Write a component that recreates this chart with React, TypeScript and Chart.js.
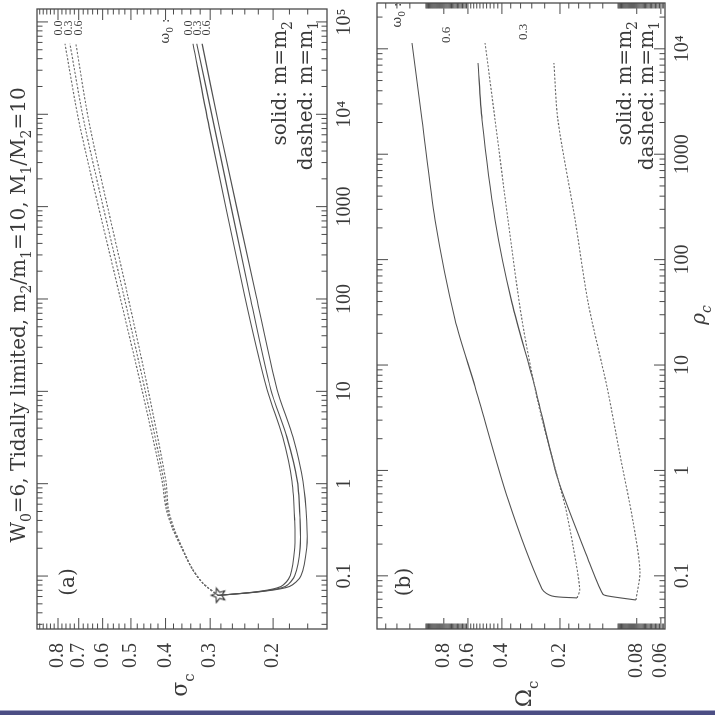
import { useEffect, useRef } from "react";
import { Chart, registerables } from "chart.js";

Chart.register(...registerables);

// Panel (a): central velocity dispersion sigma_c against central density rho_c.
// Solid curves: m = m2, dashed curves: m = m1; one curve per initial rotation w0.
const A_SOLID_RHO = [0.0617, 0.068, 0.0771, 0.101, 0.202, 0.394, 1.06, 3.2, 10.5, 107, 7280, 58000];
const A_SOLID_00_SIG = [0.285, 0.22, 0.19, 0.179, 0.174, 0.174, 0.177, 0.188, 0.208, 0.24, 0.302, 0.335];
const A_SOLID_03_SIG = [0.285, 0.217, 0.185, 0.174, 0.168, 0.168, 0.171, 0.183, 0.203, 0.232, 0.292, 0.327];
const A_SOLID_06_SIG = [0.285, 0.215, 0.18, 0.167, 0.161, 0.161, 0.165, 0.176, 0.195, 0.223, 0.283, 0.316];
const A_DASH_RHO = [0.0617, 0.083, 0.12, 0.202, 0.331, 0.542, 1.06, 10.5, 107, 7280, 58000];
const A_DASH_00_SIG = [0.285, 0.314, 0.337, 0.361, 0.383, 0.399, 0.409, 0.466, 0.537, 0.694, 0.765];
const A_DASH_03_SIG = [0.285, 0.314, 0.337, 0.36, 0.381, 0.396, 0.404, 0.457, 0.523, 0.672, 0.741];
const A_DASH_06_SIG = [0.285, 0.314, 0.337, 0.359, 0.379, 0.393, 0.399, 0.448, 0.51, 0.651, 0.713];
const STAR_RHO = 0.0617;
const STAR_SIG = 0.285;

// Panel (b): central angular velocity Omega_c against rho_c.
const B_SOLID_06_RHO = [0.0617, 0.0644, 0.075, 0.533, 6.27, 27.0, 239, 2120, 11350];
const B_SOLID_06_OM = [0.163, 0.22, 0.248, 0.372, 0.551, 0.7, 0.889, 1.038, 1.169];
const B_DASH_06_RHO = [0.0617, 0.075, 0.191, 0.458, 0.826, 4.43, 27.0, 239, 2120, 11350];
const B_DASH_06_OM = [0.163, 0.158, 0.171, 0.188, 0.205, 0.26, 0.315, 0.372, 0.434, 0.489];
const B_SOLID_03_RHO = [0.059, 0.0644, 0.0673, 0.144, 0.826, 6.27, 39.2, 239, 2120, 7330];
const B_SOLID_03_OM = [0.0808, 0.113, 0.12, 0.143, 0.205, 0.27, 0.355, 0.434, 0.507, 0.532];
const B_DASH_03_RHO = [0.059, 0.111, 0.33, 1.42, 6.14, 39.2, 239, 2120, 7330];
const B_DASH_03_OM = [0.0808, 0.077, 0.0837, 0.0978, 0.114, 0.143, 0.167, 0.205, 0.215];

// Axis ranges and labelled ticks
const RHO_RANGE_A = [0.0267, 1.38e5];
const RHO_RANGE_B = [0.0313, 2.72e4];
const SIG_RANGE = [0.1413, 0.916];
const OM_RANGE = [0.0571, 1.776];
const RHO_TICKS_A = [0.1, 1, 10, 100, 1000, 1e4, 1e5];
const RHO_TICKS_B = [0.1, 1, 10, 100, 1000, 1e4];
const SIG_TICKS = [0.2, 0.3, 0.4, 0.5, 0.6, 0.7, 0.8];
const OM_TICKS = [0.06, 0.08, 0.2, 0.4, 0.6, 0.8];
const W0_LABELS = ["0.0", "0.3", "0.6"];

const SERIF_WIDE = '"DejaVu Serif", serif';
const SERIF_NUM = '"Liberation Serif", serif';
const TEXT_COLOR = "#3a3a3a";
const FRAME_COLOR = "#4a4a4a";
const SOLID_COLOR = "#505050";
const DASH_COLOR = "#6a6a6a";

const rhoLabel = (v: number) => {
  if (v === 1e4) return "10\u2074";
  if (v === 1e5) return "10\u2075";
  return String(v);
};

const steps = (a: number, b: number, step: number) => {
  const out: number[] = [];
  const n = Math.round((b - a) / step);
  for (let i = 0; i <= n; i++) out.push(+(a + i * step).toFixed(4));
  return out;
};

const logMinor = (min: number, max: number) => {
  const out: number[] = [];
  for (let e = Math.floor(Math.log10(min)); e <= Math.ceil(Math.log10(max)); e++) {
    for (let k = 2; k <= 9; k++) {
      const v = k * Math.pow(10, e);
      if (v >= min && v <= max) out.push(v);
    }
  }
  return out;
};

const decades = (min: number, max: number) => {
  const out: number[] = [];
  for (let e = Math.ceil(Math.log10(min)); e <= Math.floor(Math.log10(max)); e++) out.push(Math.pow(10, e));
  return out;
};

const SIG_MINOR = steps(0.14, 0.9, 0.02).filter((v) => !SIG_TICKS.includes(v));
const OM_MINOR = [
  1.2, 1.4, 1.6,
  ...steps(0.61, 0.99, 0.01).filter((v) => v !== 0.8),
  ...steps(0.42, 0.58, 0.02),
  0.24, 0.28, 0.32, 0.36,
  0.1, 0.12, 0.14, 0.16, 0.18,
  ...steps(0.058, 0.099, 0.001).filter((v) => v !== 0.06 && v !== 0.08),
];

type Run = { t: string; mode: "n" | "sub" | "sup" };
const parseRich = (s: string): Run[] => {
  const runs: Run[] = [];
  let buf = "";
  for (let i = 0; i < s.length; i++) {
    const c = s[i];
    if ((c === "_" || c === "^") && i + 1 < s.length) {
      if (buf) {
        runs.push({ t: buf, mode: "n" });
        buf = "";
      }
      runs.push({ t: s[i + 1], mode: c === "_" ? "sub" : "sup" });
      i++;
    } else buf += c;
  }
  if (buf) runs.push({ t: buf, mode: "n" });
  return runs;
};

type Label = {
  text: string;
  x: number;
  y: number;
  size: number;
  family?: string;
  align?: "left" | "center" | "right";
  italic?: boolean;
};

const drawRich = (ctx: CanvasRenderingContext2D, l: Label) => {
  const fam = l.family ?? SERIF_WIDE;
  const style = l.italic ? "italic " : "";
  const runs = parseRich(l.text);
  const fontFor = (m: Run["mode"]) =>
    `${style}${m === "n" ? l.size : Math.round(l.size * 0.68)}px ${fam}`;
  const widths = runs.map((r) => {
    ctx.font = fontFor(r.mode);
    return ctx.measureText(r.t).width;
  });
  const total = widths.reduce((a, b) => a + b, 0);
  let cx = l.align === "right" ? l.x - total : l.align === "left" ? l.x : l.x - total / 2;
  ctx.textAlign = "left";
  ctx.textBaseline = "alphabetic";
  runs.forEach((r, i) => {
    ctx.font = fontFor(r.mode);
    const dy = r.mode === "sub" ? l.size * 0.3 : r.mode === "sup" ? -l.size * 0.4 : 0;
    ctx.fillText(r.t, cx, l.y + dy);
    cx += widths[i];
  });
};

const textPlugin = (id: string, labels: Label[]) => ({
  id,
  afterDraw(chart: Chart) {
    const ctx = chart.ctx;
    ctx.save();
    ctx.fillStyle = TEXT_COLOR;
    labels.forEach((l) => drawRich(ctx, l));
    ctx.restore();
  },
});

// Boxed frame with inward ticks on all four sides, placed through the scales
const framePlugin = (id: string, yMajor: number[], yMinor: number[]) => ({
  id,
  afterDatasetsDraw(chart: Chart) {
    const { ctx, chartArea } = chart;
    const { left, right, top, bottom } = chartArea;
    const xs = chart.scales.x;
    const ys = chart.scales.y;
    const xMin = xs.min as number;
    const xMax = xs.max as number;
    ctx.save();
    ctx.strokeStyle = FRAME_COLOR;
    ctx.lineWidth = 1;
    ctx.beginPath();
    const tickX = (v: number, len: number) => {
      const p = xs.getPixelForValue(v);
      if (p < left - 0.5 || p > right + 0.5) return;
      ctx.moveTo(p, bottom);
      ctx.lineTo(p, bottom - len);
      ctx.moveTo(p, top);
      ctx.lineTo(p, top + len);
    };
    const tickY = (v: number, len: number) => {
      const p = ys.getPixelForValue(v);
      if (p < top - 0.5 || p > bottom + 0.5) return;
      ctx.moveTo(left, p);
      ctx.lineTo(left + len, p);
      ctx.moveTo(right, p);
      ctx.lineTo(right - len, p);
    };
    decades(xMin, xMax).forEach((v) => tickX(v, 11));
    logMinor(xMin, xMax).forEach((v) => tickX(v, 5.5));
    yMajor.forEach((v) => tickY(v, 11));
    yMinor.forEach((v) => tickY(v, 5.5));
    ctx.stroke();
    ctx.lineWidth = 1.3;
    ctx.strokeRect(left, top, right - left, bottom - top);
    ctx.restore();
  },
});

const curve = (xs: number[], ys: number[], dashed: boolean) => ({
  data: xs.map((x, i) => ({ x, y: ys[i] })),
  showLine: true,
  pointRadius: 0,
  borderColor: dashed ? DASH_COLOR : SOLID_COLOR,
  borderWidth: 1.1,
  borderDash: dashed ? [2.2, 1.6] : [],
  tension: 0.28,
  fill: false,
});

const makeStar = () => {
  const c = document.createElement("canvas");
  c.width = 18;
  c.height = 18;
  const g = c.getContext("2d")!;
  g.strokeStyle = "#333";
  g.lineWidth = 1.1;
  g.beginPath();
  for (let i = 0; i < 10; i++) {
    const r = i % 2 === 0 ? 7.5 : 3.2;
    const a = -Math.PI / 2 + (i * Math.PI) / 5;
    const px = 9 + r * Math.cos(a);
    const py = 9.5 + r * Math.sin(a);
    if (i === 0) g.moveTo(px, py);
    else g.lineTo(px, py);
  }
  g.closePath();
  g.stroke();
  return c;
};

const scaleOpts = (
  range: number[],
  ticks: number[],
  label: (v: number) => string,
  horizontal: boolean,
  size: number,
  pad: number
) => ({
  type: "logarithmic" as const,
  position: horizontal ? ("bottom" as const) : ("left" as const),
  min: range[0],
  max: range[1],
  grid: { display: false, drawTicks: false },
  border: { display: false },
  afterBuildTicks: (s: any) => {
    s.ticks = ticks.map((v) => ({ value: v }));
  },
  afterFit: (s: any) => {
    if (horizontal) s.height = size;
    else s.width = size;
    s.paddingLeft = 0;
    s.paddingRight = 0;
    s.paddingTop = 0;
    s.paddingBottom = 0;
  },
  ticks: {
    autoSkip: false,
    maxRotation: 0,
    minRotation: 0,
    padding: pad,
    color: TEXT_COLOR,
    font: { family: SERIF_NUM, size: 20 },
    callback: (v: any) => label(Number(v)),
  },
});

const baseOptions = (top: number, x: any, y: any) => ({
  responsive: false,
  animation: false as const,
  devicePixelRatio: 1,
  events: [] as any[],
  layout: { padding: { top, right: 3, left: 0, bottom: 0 } },
  plugins: {
    legend: { display: false },
    tooltip: { enabled: false },
    title: { display: false },
  },
  scales: { x, y },
});

const LABELS_A: Label[] = [
  { text: "W_0=6, Tidally limited, m_2/m_1=10, M_1/M_2=10", x: 400, y: 25, size: 20 },
  { text: "(a)", x: 133, y: 74, size: 20 },
  { text: "solid: m=m_2", x: 694, y: 286, size: 20, align: "right" },
  { text: "dashed: m=m_1", x: 694, y: 312, size: 20, align: "right" },
  { text: "\u03c9_0 :", x: 684, y: 169, size: 13 },
  { text: W0_LABELS[0], x: 687, y: 192, size: 12, family: SERIF_NUM },
  { text: W0_LABELS[1], x: 687, y: 201, size: 12, family: SERIF_NUM },
  { text: W0_LABELS[2], x: 687, y: 210, size: 12, family: SERIF_NUM },
  { text: W0_LABELS[0], x: 687, y: 62, size: 12, family: SERIF_NUM },
  { text: W0_LABELS[1], x: 687, y: 72, size: 12, family: SERIF_NUM },
  { text: W0_LABELS[2], x: 687, y: 82, size: 12, family: SERIF_NUM },
  { text: "\u03c3_c", x: 30, y: 187, size: 22 },
];

const LABELS_B: Label[] = [
  { text: "(b)", x: 133, y: 50, size: 20 },
  { text: "solid: m=m_2", x: 694, y: 271, size: 20, align: "right" },
  { text: "dashed: m=m_1", x: 694, y: 293, size: 20, align: "right" },
  { text: "\u03c9_0 :", x: 700, y: 41, size: 13 },
  { text: W0_LABELS[2], x: 680, y: 90, size: 13, family: SERIF_NUM },
  { text: W0_LABELS[1], x: 683, y: 167, size: 13, family: SERIF_NUM },
  { text: "\u03a9_c", x: 21, y: 171, size: 22 },
  { text: "\u03c1_c", x: 400, y: 345, size: 20, italic: true },
];

export default function App() {
  const refA = useRef<HTMLCanvasElement>(null);
  const refB = useRef<HTMLCanvasElement>(null);

  useEffect(() => {
    const star = makeStar();
    const chartA = new Chart(refA.current!, {
      type: "scatter",
      data: {
        datasets: [
          curve(A_SOLID_RHO, A_SOLID_00_SIG, false),
          curve(A_SOLID_RHO, A_SOLID_03_SIG, false),
          curve(A_SOLID_RHO, A_SOLID_06_SIG, false),
          curve(A_DASH_RHO, A_DASH_00_SIG, true),
          curve(A_DASH_RHO, A_DASH_03_SIG, true),
          curve(A_DASH_RHO, A_DASH_06_SIG, true),
          {
            data: [{ x: STAR_RHO, y: STAR_SIG }],
            showLine: false,
            pointStyle: star,
            pointRadius: 8,
          } as any,
        ],
      },
      options: baseOptions(
        37,
        scaleOpts(RHO_RANGE_A, RHO_TICKS_A, rhoLabel, true, 33, 6),
        scaleOpts(SIG_RANGE, SIG_TICKS, (v) => String(v), false, 86, 14)
      ) as any,
      plugins: [framePlugin("frameA", SIG_TICKS, SIG_MINOR), textPlugin("textA", LABELS_A)],
    });
    const chartB = new Chart(refB.current!, {
      type: "scatter",
      data: {
        datasets: [
          curve(B_SOLID_06_RHO, B_SOLID_06_OM, false),
          curve(B_DASH_06_RHO, B_DASH_06_OM, true),
          curve(B_SOLID_03_RHO, B_SOLID_03_OM, false),
          curve(B_DASH_03_RHO, B_DASH_03_OM, true),
        ],
      },
      options: baseOptions(
        17,
        scaleOpts(RHO_RANGE_B, RHO_TICKS_B, rhoLabel, true, 50, 6),
        scaleOpts(OM_RANGE, OM_TICKS, (v) => String(v), false, 86, 14)
      ) as any,
      plugins: [framePlugin("frameB", OM_TICKS, OM_MINOR), textPlugin("textB", LABELS_B)],
    });
    return () => {
      chartA.destroy();
      chartB.destroy();
    };
  }, []);

  return (
    <div
      style={{
        position: "fixed",
        left: 0,
        top: 0,
        width: 715,
        height: 715,
        overflow: "hidden",
        background: "#fff",
      }}
    >
      <div
        style={{
          position: "absolute",
          left: 0,
          top: 0,
          width: 715,
          height: 715,
          transform: "rotate(-90deg)",
          transformOrigin: "357.5px 357.5px",
        }}
      >
        <canvas
          ref={refA}
          width={715}
          height={360}
          style={{ position: "absolute", left: 0, top: 0, width: 715, height: 360 }}
        />
        <canvas
          ref={refB}
          width={715}
          height={355}
          style={{ position: "absolute", left: 0, top: 360, width: 715, height: 355 }}
        />
      </div>
      <div
        style={{
          position: "absolute",
          left: 0,
          top: 710,
          width: 715,
          height: 5,
          background: "#4c4e84",
          borderTop: "1px solid #a4a6c4",
          boxSizing: "border-box",
        }}
      />
    </div>
  );
}
